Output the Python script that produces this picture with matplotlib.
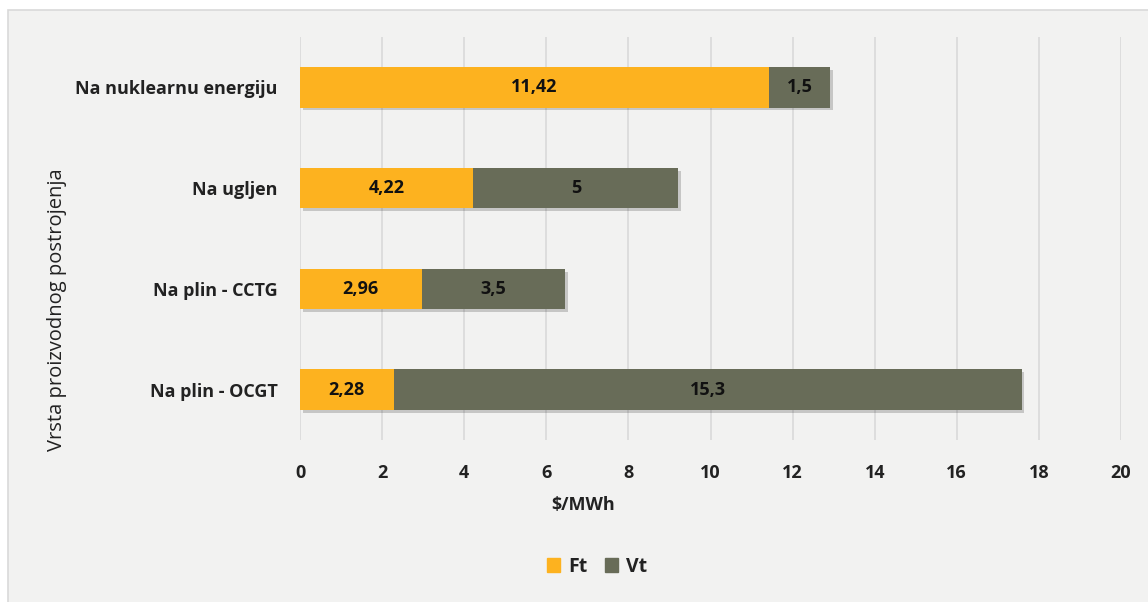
import matplotlib
matplotlib.use('Agg')
import matplotlib.pyplot as plt
from matplotlib.patches import Rectangle, Patch
import matplotlib.patheffects as pe

# Data (bottom to top as drawn)
categories = ['Na plin - OCGT', 'Na plin - CCTG', 'Na ugljen', 'Na nuklearnu energiju']
ft_values = [2.28, 2.96, 4.22, 11.42]
vt_values = [15.3, 3.5, 5, 1.5]
ft_labels = ['2,28', '2,96', '4,22', '11,42']
vt_labels = ['15,3', '3,5', '5', '1,5']
x_ticks = [0, 2, 4, 6, 8, 10, 12, 14, 16, 18, 20]

plt.rcParams['font.family'] = ['Open Sans', 'DejaVu Sans']

fig = plt.figure(figsize=(11.48, 6.02), dpi=100)
fig.patch.set_facecolor('white')

# Chart area panel
panel = Rectangle((8 / 1148, -0.01), 1.0, 1 - 10 / 602 + 0.01, transform=fig.transFigure,
                  facecolor='#f2f2f1', edgecolor='#d9d9d9', linewidth=1.2, zorder=-5)
fig.patches.append(panel)

ax = fig.add_axes([300 / 1148, 1 - 440 / 602, (1121 - 300) / 1148, (440 - 37) / 602])
ax.set_facecolor('none')
ax.set_zorder(1)

orange = '#fdb21f'
gray = '#686c58'
shadow = [pe.SimplePatchShadow(offset=(2, -2), shadow_rgbFace='#000000', alpha=0.18), pe.Normal()]

y = range(len(categories))
ax.barh(y, ft_values, height=0.4, color=orange, zorder=3, path_effects=shadow)
ax.barh(y, vt_values, left=ft_values, height=0.4, color=gray, zorder=3, path_effects=shadow)

for i in y:
    ax.text(ft_values[i] / 2, i, ft_labels[i], ha='center', va='center',
            fontsize=13, fontweight='bold', color='#111111', zorder=4)
    ax.text(ft_values[i] + vt_values[i] / 2, i, vt_labels[i], ha='center', va='center',
            fontsize=13, fontweight='bold', color='#111111', zorder=4)

ax.set_xlim(0, 20)
ax.set_ylim(-0.5, 3.5)
ax.set_xticks(x_ticks)
ax.set_xticklabels([str(t) for t in x_ticks], fontsize=13, fontweight='bold', color='#222222')
ax.set_yticks(list(y))
ax.set_yticklabels(categories, fontsize=13, fontweight='bold', color='#222222')
ax.tick_params(axis='both', length=0)
ax.tick_params(axis='x', pad=17)
ax.tick_params(axis='y', pad=16)
ax.grid(axis='x', color='#d9d9d9', linewidth=1.2, zorder=1)
for s in ax.spines.values():
    s.set_visible(False)

fig.text(583 / 1148, 1 - 505 / 602, '$/MWh', ha='center', va='center',
         fontsize=13, fontweight='bold', color='#222222')
fig.text(57 / 1148, 1 - 310 / 602, 'Vrsta proizvodnog postrojenja', ha='center', va='center',
         rotation=90, fontsize=14.5, color='#222222')

handles = [Patch(color=orange, label='Ft'), Patch(color=gray, label='Vt')]
fig.legend(handles=handles, loc='center', bbox_to_anchor=(597 / 1148, 1 - 567 / 602), ncol=2,
           frameon=False, prop={'size': 14, 'weight': 'bold'}, handlelength=0.7, handleheight=0.7,
           handletextpad=0.4, columnspacing=0.9)
for t in fig.legends[0].get_texts():
    t.set_color('#222222')

fig.savefig('out.png', dpi=100, facecolor='white')
